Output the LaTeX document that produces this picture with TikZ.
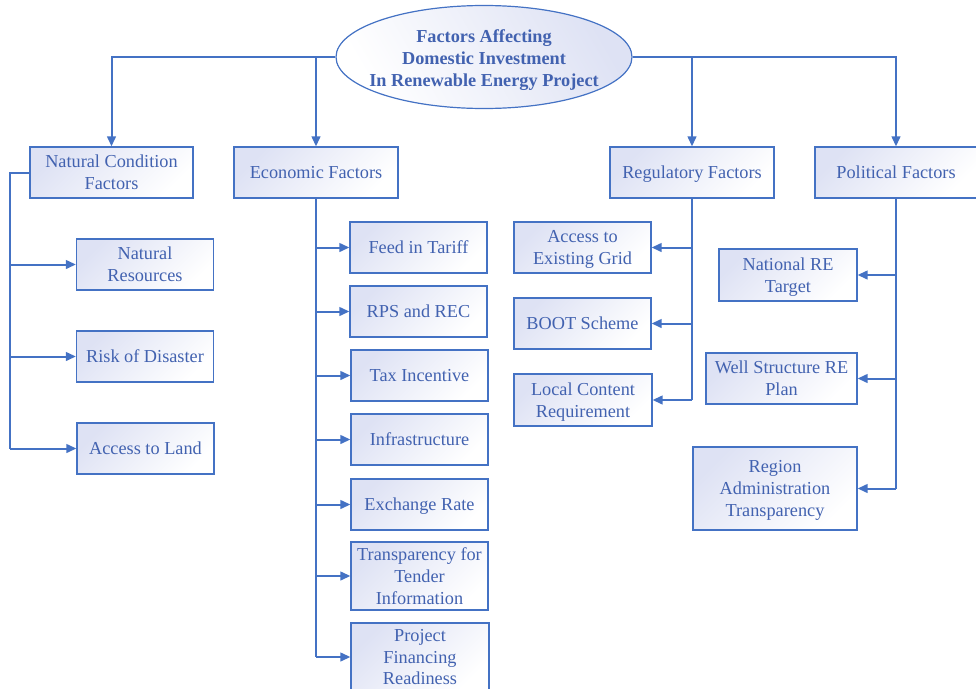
\documentclass[tikz,border=0pt]{standalone}
\usepackage{fontspec}
\setmainfont{Liberation Serif}
\usetikzlibrary{arrows.meta,shapes.geometric}
\definecolor{linecol}{RGB}{68,114,196}
\definecolor{textcol}{RGB}{66,98,176}
\definecolor{boxfill}{RGB}{222,226,244}
\tikzset{
  box/.style 2 args={draw=linecol, line width=0.9pt, top color=boxfill, bottom color=white, shading angle=45,
    minimum width=#1*0.75pt, minimum height=#2*0.75pt, inner sep=1pt, align=center, text=textcol,
    text depth=0pt, font=\fontsize{13.7}{16.4}\selectfont},
  conn/.style={draw=linecol, line width=1.5pt},
  arr/.style={conn, -{Triangle[length=7.5pt,width=6.5pt]}}
}
\begin{document}
\begin{tikzpicture}[x=0.75pt,y=0.75pt,yscale=-1,xscale=1]
\useasboundingbox (0,0) rectangle (976,689);

%Shape: Ellipse [title]
\node [ellipse, draw=linecol, line width=0.9pt, top color=boxfill, bottom color=white, shading angle=-60,
  minimum width=296*0.75pt, minimum height=103*0.75pt, inner sep=0pt] (title) at (484,57) {};
% Text Node
\node [align=center, text=textcol, font=\bfseries\fontsize{13.7}{16.2}\selectfont] at (484,60)
  {Factors Affecting\\Domestic Investment\\In Renewable Energy Project};

%Shape: Rectangle [main factors]
\node [box={163}{51}] (nat) at (111.5,172.5) {Natural Condition\\Factors};
\node [box={164}{51}] (eco) at (316,172.5) {Economic Factors};
\node [box={164}{51}] (reg) at (692,172.5) {Regulatory Factors};
\node [box={162}{51}] (pol) at (896,172.5) {Political Factors};

%Shape: Rectangle [natural]
\node [box={137}{51}] (res) at (145,264.5) {Natural\\Resources};
\node [box={137}{51}] (risk) at (145,356.5) {Risk of Disaster};
\node [box={137}{51}] (land) at (145.5,448.5) {Access to Land};

%Shape: Rectangle [economic]
\node [box={137}{51}] (fit) at (418.5,247.5) {Feed in Tariff};
\node [box={137}{51}] (rps) at (418.5,311.5) {RPS and REC};
\node [box={137}{51}] (tax) at (419.5,375.5) {Tax Incentive};
\node [box={137}{51}] (infra) at (419.5,439.5) {Infrastructure};
\node [box={137}{51}] (exch) at (419.5,504.5) {Exchange Rate};
\node [box={137}{68}] (tend) at (419.5,576) {Transparency for\\Tender\\Information};
\node [box={138}{68}] (proj) at (420,657) {Project\\Financing\\Readiness};

%Shape: Rectangle [regulatory]
\node [box={137}{51}] (grid) at (582.5,247.5) {Access to\\Existing Grid};
\node [box={137}{51}] (boot) at (582.5,323.5) {BOOT Scheme};
\node [box={138}{52}] (local) at (583,400) {Local Content\\Requirement};

%Shape: Rectangle [political]
\node [box={138}{52}] (natre) at (788,275) {National RE\\Target};
\node [box={151}{51}] (plan) at (781.5,378.5) {Well Structure RE\\Plan};
\node [box={164}{83}] (region) at (775,488.5) {Region\\Administration\\Transparency};

%Straight Lines [title to factors]
\draw [arr] (title.west) -| (nat.north);
\draw [arr] (title.west -| eco.north) -- (eco.north);
\draw [arr] (title.east) -| (pol.north);
\draw [arr] (title.east -| reg.north) -- (reg.north);

%Straight Lines [natural]
\coordinate (lbus) at (10,0);
\draw [conn] (nat.west) -- (nat.west -| lbus) -- (land.west -| lbus);
\foreach \n in {res,risk,land}
  \draw [arr] (\n.west -| lbus) -- (\n.west);

%Straight Lines [economic]
\draw [conn] (eco.south) -- (eco.south |- proj.west);
\foreach \n in {fit,rps,tax,infra,exch,tend,proj}
  \draw [arr] (eco.south |- \n.west) -- (\n.west);

%Straight Lines [regulatory]
\draw [conn] (reg.south) -- (reg.south |- local.east);
\foreach \n in {grid,boot,local}
  \draw [arr] (reg.south |- \n.east) -- (\n.east);

%Straight Lines [political]
\draw [conn] (pol.south) -- (pol.south |- region.east);
\foreach \n in {natre,plan,region}
  \draw [arr] (pol.south |- \n.east) -- (\n.east);

\end{tikzpicture}
\end{document}
